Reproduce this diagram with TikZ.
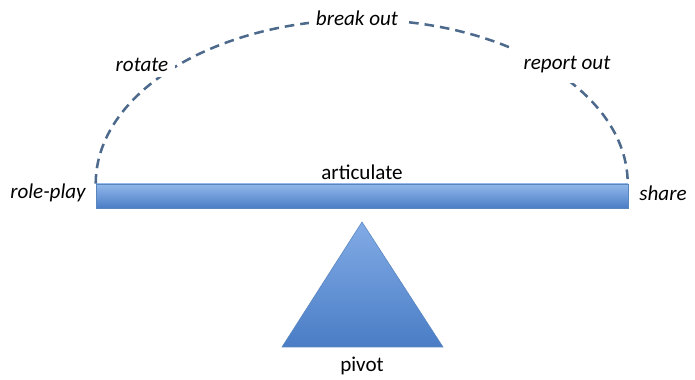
\documentclass[tikz,border=0pt]{standalone}
\usepackage{fontspec}
\setmainfont{Carlito}
\usetikzlibrary{positioning}
\definecolor{barlight}{HTML}{92B8EB}
\definecolor{bardark}{HTML}{4A7DC6}
\definecolor{trilight}{HTML}{82ABE5}
\definecolor{baredge}{HTML}{5A86BE}
\definecolor{arcblue}{HTML}{4D6A8C}
\tikzset{
  word/.style={font=\fontsize{15}{18}\selectfont, inner sep=2pt},
  stage/.style={word, font=\fontsize{15}{18}\selectfont\itshape, fill=white, inner sep=4pt},
  beam/.style={draw=baredge, thin, top color=barlight, bottom color=bardark},
  fulcrum/.style={beam, top color=trilight},
  loop/.style={draw=arcblue, line width=1.8pt, dash pattern=on 0.24cm off 0.15cm}
}
\begin{document}
\begin{tikzpicture}
    \useasboundingbox (0,0) rectangle (17.375,9.5);
    % seesaw beam and pivot
    \node [beam, minimum width=13.3cm, minimum height=0.6cm, inner sep=0] (bar) at (9.05,4.6) {};
    \draw [fulcrum] (9.05,3.95) coordinate (apex) -- (11.075,0.825) -- (7.05,0.825) -- cycle;
    \node [word] (pivot) at (9.05,0.35) {pivot};
    \node [word] (articulate) at (9.05,5.2) {articulate};
    % the dashed loop over the beam
    \draw [loop] (bar.north west) arc [start angle=180, end angle=0, x radius=6.65cm, y radius=4.1cm];
    \node [stage, inner xsep=5pt] (rotate) at (3.55,7.875) {rotate};
    \node [stage, inner xsep=5pt] (breakout) at (8.925,9.05) {break out};
    \node [stage, inner xsep=7pt, inner ysep=7pt] (reportout) at (14.175,7.875) {report out};
    \node [stage, fill=none] (roleplay) at (1.2,4.675) {role-play};
    \node [stage, fill=none] (share) at (16.575,4.675) {share};
\end{tikzpicture}
\end{document}
